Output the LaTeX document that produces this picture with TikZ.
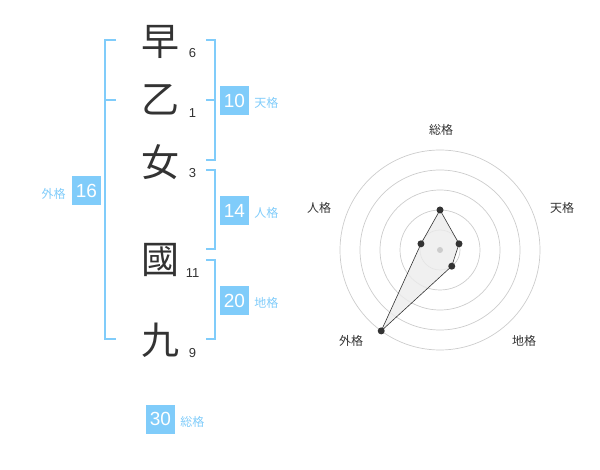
\documentclass[tikz,border=0pt]{standalone}
\usepackage{fontspec}
\setmainfont{Liberation Sans}
\newfontfamily\jpfont{Noto Sans CJK JP}
\usetikzlibrary{positioning}

\definecolor{kakublue}{RGB}{128,204,250}
\definecolor{inkgray}{RGB}{51,51,51}
\definecolor{ringgray}{RGB}{204,204,204}

\tikzset{
  kanji/.style={font=\jpfont\fontsize{38}{38}\selectfont, text=inkgray, inner sep=0pt},
  strokes/.style={font=\fontsize{13}{13}\selectfont, text=inkgray, inner sep=0pt},
  kakubox/.style={fill=kakublue, text=white, minimum size=29pt, inner sep=0pt, font=\fontsize{19}{19}\selectfont},
  kakuname/.style={font=\jpfont\fontsize{12}{12}\selectfont, text=kakublue, inner sep=0pt},
  bracket/.style={draw=kakublue, line width=2pt},
  ring/.style={draw=ringgray, line width=0.7pt},
  axisname/.style={font=\jpfont\fontsize{12}{12}\selectfont, text=inkgray, inner sep=0pt},
  valdot/.style={circle, fill=inkgray, inner sep=0pt, minimum size=7pt},
}

\begin{document}
\begin{tikzpicture}[x=1pt, y=-1pt]
    \useasboundingbox (0, 0) rectangle (600, 470);

    % 名前の文字と画数
    \node[kanji] (c1) at (160, 42) {早};
    \node[kanji] (c2) at (160, 100) {乙};
    \node[kanji] (c3) at (160, 162) {女};
    \node[kanji] (c4) at (160, 260) {國};
    \node[kanji] (c5) at (160, 340) {九};
    \node[strokes] (s1) at (192.5, 53) {6};
    \node[strokes] (s2) at (192.5, 113) {1};
    \node[strokes] (s3) at (192.5, 173) {3};
    \node[strokes] (s4) at (192.5, 273) {11};
    \node[strokes] (s5) at (192.5, 353) {9};

    % 外格の括弧
    \draw[bracket] (116, 40) -- (105, 40) -- (105, 339) -- (116, 339);
    \draw[bracket] (105, 100) -- (116, 100);

    % 天格・人格・地格の括弧
    \draw[bracket] (206, 40) -- (215, 40) -- (215, 160) -- (206, 160);
    \draw[bracket] (206, 100) -- (215, 100);
    \draw[bracket] (206, 170) -- (215, 170) -- (215, 249) -- (206, 249);
    \draw[bracket] (206, 260) -- (215, 260) -- (215, 339) -- (206, 339);

    % 各格の数値
    \node[kakubox] (k10) at (234.5, 100.5) {10};
    \node[kakuname, right=5pt of k10, yshift=-2pt] (ten) {天格};
    \node[kakubox] (k14) at (234.5, 211) {14};
    \node[kakuname, right=5pt of k14, yshift=-2pt] (jin) {人格};
    \node[kakubox] (k20) at (234.5, 300.5) {20};
    \node[kakuname, right=5pt of k20, yshift=-2pt] (chi) {地格};
    \node[kakubox] (k16) at (86.5, 190.5) {16};
    \node[kakuname, left=6pt of k16, yshift=-3pt] (gai) {外格};
    \node[kakubox] (k30) at (160.5, 419) {30};
    \node[kakuname, right=5pt of k30, yshift=-3pt] (sou) {総格};

    % レーダーチャート
    \begin{scope}[shift={(440, 250)}, yscale=-1]
        \foreach \r in {20, 40, 60, 80, 100}
            \draw[ring] (0, 0) circle (\r);
        \coordinate (p1) at (90:40);
        \coordinate (p2) at (18:20);
        \coordinate (p3) at (-54:20);
        \coordinate (p4) at (-126:100);
        \coordinate (p5) at (162:20);
        \filldraw[fill=gray!15, fill opacity=0.8, draw=inkgray, line width=0.6pt]
            (p1) -- (p2) -- (p3) -- (p4) -- (p5) -- cycle;
        \fill[ringgray] (0, 0) circle (3);
        \foreach \p in {p1, p2, p3, p4, p5}
            \node[valdot] at (\p) {};
        \node[axisname] (a1) at (1, 120) {総格};
        \node[axisname] (a2) at (122, 42) {天格};
        \node[axisname] (a3) at (84, -91) {地格};
        \node[axisname] (a4) at (-89, -91) {外格};
        \node[axisname] (a5) at (-121, 42) {人格};
    \end{scope}
\end{tikzpicture}
\end{document}
